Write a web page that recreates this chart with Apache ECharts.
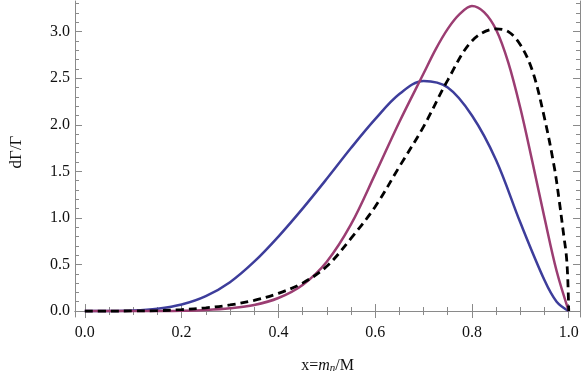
<!DOCTYPE html>
<html>
<head>
<meta charset="utf-8">
<script src="https://cdn.jsdelivr.net/npm/echarts@6/dist/echarts.min.js"></script>
<style>
  html, body { margin: 0; padding: 0; background: #fff; }
  #chart { width: 582px; height: 379px; }
</style>
</head>
<body>
<div id="chart"></div>
<script>
// values
const xBlue = [0, 0.05, 0.1, 0.15, 0.2, 0.25, 0.3, 0.35, 0.4, 0.45, 0.5, 0.55, 0.6, 0.65, 0.7, 0.75, 0.8, 0.85, 0.9, 0.95, 0.975, 1.0];
const blueVals = [0, 0.0, 0.005, 0.025, 0.07, 0.16, 0.31, 0.53, 0.8, 1.1, 1.42, 1.75, 2.06, 2.33, 2.47, 2.4, 2.1, 1.62, 0.95, 0.33, 0.1, 0];

const xPurple = [0, 0.05, 0.1, 0.15, 0.2, 0.25, 0.3, 0.35, 0.4, 0.45, 0.5, 0.55, 0.6, 0.65, 0.7, 0.725, 0.75, 0.775, 0.8, 0.825, 0.85, 0.875, 0.9, 0.925, 0.95, 0.975, 1.0];
const purpleVals = [0, 0, 0, 0.001, 0.004, 0.012, 0.03, 0.065, 0.14, 0.28, 0.53, 0.93, 1.47, 2.03, 2.55, 2.81, 3.03, 3.19, 3.276, 3.21, 3.02, 2.67, 2.18, 1.6, 1.0, 0.43, 0];

const xBlack = [0, 0.05, 0.1, 0.15, 0.2, 0.25, 0.3, 0.35, 0.4, 0.45, 0.5, 0.55, 0.6, 0.65, 0.7, 0.75, 0.8, 0.85, 0.875, 0.9, 0.925, 0.95, 0.97, 0.98, 0.99, 0.995, 0.998, 1.0];
const blackVals = [0, 0, 0.001, 0.004, 0.015, 0.035, 0.065, 0.115, 0.19, 0.3, 0.48, 0.78, 1.12, 1.55, 1.98, 2.48, 2.9, 3.03, 3.0, 2.86, 2.58, 2.07, 1.55, 1.2, 0.8, 0.6, 0.35, 0];

const xMajor = [0, 0.2, 0.4, 0.6, 0.8, 1.0];
const xMinor = [0.05, 0.1, 0.15, 0.25, 0.3, 0.35, 0.45, 0.5, 0.55, 0.65, 0.7, 0.75, 0.85, 0.9, 0.95];
const yMajor = [0, 0.5, 1.0, 1.5, 2.0, 2.5, 3.0];
const yMinor = [0.1, 0.2, 0.3, 0.4, 0.6, 0.7, 0.8, 0.9, 1.1, 1.2, 1.3, 1.4, 1.6, 1.7, 1.8, 1.9, 2.1, 2.2, 2.3, 2.4, 2.6, 2.7, 2.8, 2.9, 3.1, 3.2, 3.3];

const pair = (xs, ys) => xs.map((x, i) => [x, ys[i]]);

const frameColor = '#8a8a8a';
const serif = '"Liberation Serif", "DejaVu Serif", serif';
const X_MIN = -0.0203, X_MAX = 1.0233;
const Y_MIN = -0.064, Y_MAX = 3.329;

const makeX = (pos, ticks, len, labels, line) => ({
  type: 'value', position: pos, min: X_MIN, max: X_MAX,
  axisLine: { show: line, lineStyle: { color: frameColor, width: 1 } },
  axisTick: { show: true, inside: true, length: len, customValues: ticks, lineStyle: { color: frameColor } },
  axisLabel: labels
    ? { show: true, customValues: ticks, margin: 8, color: '#111', fontFamily: serif, fontSize: 16, formatter: v => v.toFixed(1) }
    : { show: false },
  splitLine: { show: false },
});

const makeY = (pos, ticks, len, labels, line) => ({
  type: 'value', position: pos, min: Y_MIN, max: Y_MAX,
  axisLine: { show: line, onZero: false, lineStyle: { color: frameColor, width: 1 } },
  axisTick: { show: true, inside: true, length: len, customValues: ticks, lineStyle: { color: frameColor } },
  axisLabel: labels
    ? { show: true, customValues: ticks, margin: 5, color: '#111', fontFamily: serif, fontSize: 16, formatter: v => v.toFixed(1) }
    : { show: false },
  splitLine: { show: false },
});

const chart = echarts.init(document.getElementById('chart'));

const xAxes = [
  makeX('bottom', xMajor, 7, true, true),
  makeX('bottom', xMinor, 4, false, false),
  makeX('top', xMajor, 7, false, true),
  makeX('top', xMinor, 4, false, false),
];
xAxes[0].name = '{a|x=}{i|m}{s|n}{a|/M}';
xAxes[0].nameLocation = 'middle';
xAxes[0].nameGap = 40;
xAxes[0].nameTextStyle = {
  rich: {
    a: { fontFamily: serif, fontSize: 16, color: '#111' },
    i: { fontFamily: serif, fontSize: 16, fontStyle: 'italic', color: '#111' },
    s: { fontFamily: serif, fontSize: 11, fontStyle: 'italic', color: '#111', verticalAlign: 'bottom', padding: [6, 0, 0, 0] },
  },
};

const yAxes = [
  makeY('left', yMajor, 7, true, true),
  makeY('left', yMinor, 4, false, false),
  makeY('right', yMajor, 7, false, true),
  makeY('right', yMinor, 4, false, false),
];
yAxes[0].name = 'dΓ/Γ';
yAxes[0].nameLocation = 'middle';
yAxes[0].nameGap = 50;
yAxes[0].nameTextStyle = { fontFamily: serif, fontSize: 17, color: '#111', padding: [0, 0, 0, 14] };

const lineSeries = (name, xs, ys, style) => ({
  name, type: 'line', data: pair(xs, ys),
  smooth: 0.35, showSymbol: false, clip: false,
  lineStyle: style,
});

chart.setOption({
  animation: false,
  grid: { left: 65, right: 2, top: 1, bottom: 61 },
  xAxis: xAxes,
  yAxis: yAxes,
  series: [
    lineSeries('blue', xBlue, blueVals, { color: '#3d3d9b', width: 2.5 }),
    lineSeries('purple', xPurple, purpleVals, { color: '#9b3d72', width: 2.5 }),
    lineSeries('black', xBlack, blackVals, { color: '#000', width: 2.8, type: [8, 5] }),
  ],
});
</script>
</body>
</html>
